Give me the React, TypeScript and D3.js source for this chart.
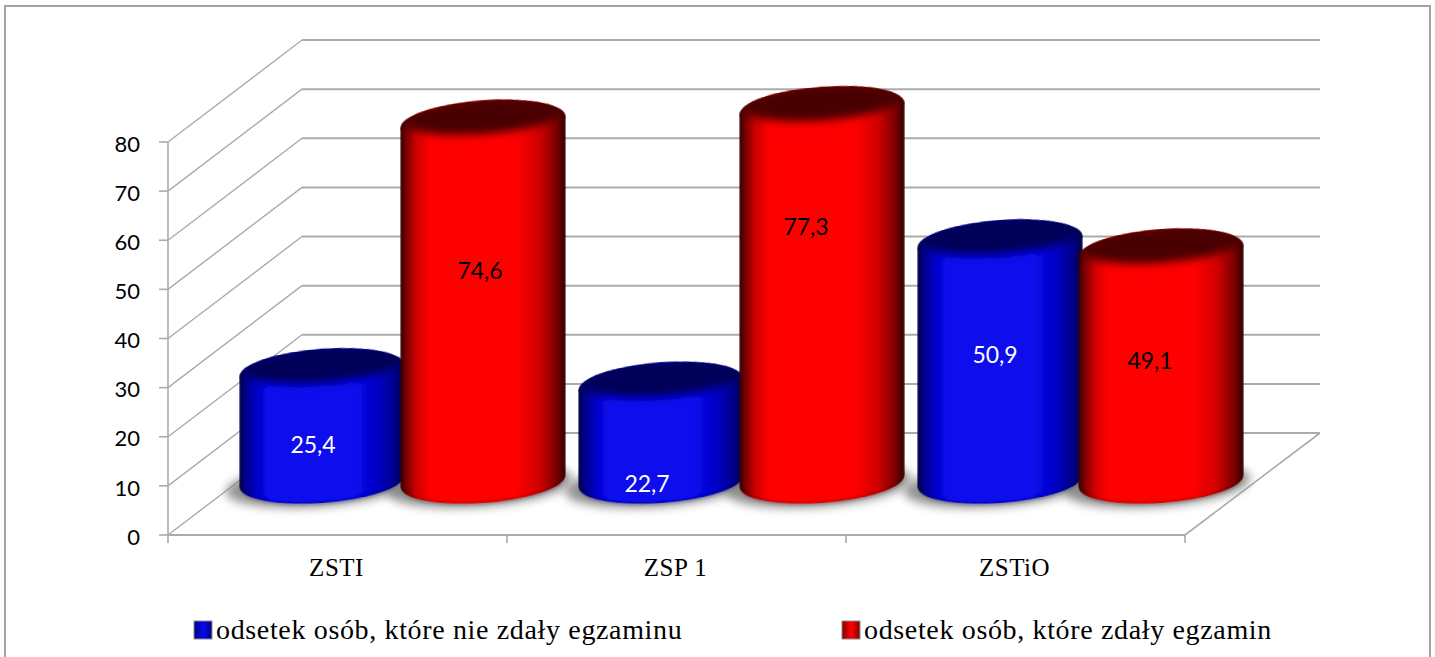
import { useId } from 'react';
import * as d3 from 'd3';

// Values
const categories = ['ZSTI', 'ZSP 1', 'ZSTiO'];
const seriesNames = ['odsetek osób, które nie zdały egzaminu', 'odsetek osób, które zdały egzamin'];
const failed = [25.4, 22.7, 50.9];
const passed = [74.6, 77.3, 49.1];
const yTicks = [0, 10, 20, 30, 40, 50, 60, 70, 80];

const W = 1435;
const H = 657;
const DEPTH_X = 134;
const DEPTH_Y = 102;
const RX = 82.5;
const RY = 22;
const SHEAR = -0.07;
const BASE_Y = 481;
const GRAY = '#ababab';

const x = d3.scaleBand<string>().domain(categories).range([168, 1185]);
const y = d3.scaleLinear().domain([0, 80]).range([535, 142]);
// cylinders sit mid-way into the floor, so their tops run on a slightly steeper scale
const topY = d3.scaleLinear().domain([0, 80]).range([499, 95]);
const labelY = d3.scaleLinear().domain([0, 80]).range([535, 252]);
const sub = d3.scaleBand<number>().domain([0, 1]).range([-161, 161]);

const palettes = [
  { id: 'blue', edge: '#000040', shade: '#00008c', soft: '#0404c4', mid: '#0808ee', top: '#000058', text: '#ffffff' },
  { id: 'red', edge: '#300000', shade: '#800000', soft: '#d00000', mid: '#ff0000', top: '#480000', text: '#000000' },
];

// hand-moved labels in the original chart
const labelNudge: [number, number][][] = [
  [[-9, 0], [-3, 0]],
  [[-14, 29], [-16, -35]],
  [[-5, 0], [-11, 0]],
];

function Cylinder({ cx, value, pal }: { cx: number; value: number; pal: (typeof palettes)[number] }) {
  const clipId = useId();
  const h = BASE_Y - topY(value);
  return (
    <g transform={`matrix(1,${SHEAR},0,1,${cx},${BASE_Y})`} filter="url(#soft)">
      <clipPath id={clipId}>
        <ellipse cx={0} cy={-h} rx={RX} ry={RY} />
      </clipPath>
      <path
        d={`M${-RX},${-h}L${-RX},0A${RX},${RY} 0 0 0 ${RX},0L${RX},${-h}Z`}
        fill={`url(#body-${pal.id})`}
      />
      <path
        d={`M${-RX + 3},2A${RX - 3},${RY - 2} 0 0 0 ${RX - 3},2`}
        fill="none"
        stroke={pal.top}
        strokeWidth={3}
        opacity={0.3}
        filter="url(#blur2)"
      />
      <ellipse cx={0} cy={-h} rx={RX} ry={RY} fill={`url(#body-${pal.id})`} />
      <g clipPath={`url(#${clipId})`}>
        <ellipse cx={0} cy={-h - 7} rx={RX - 1} ry={RY - 3} fill={pal.top} filter="url(#blur3)" />
      </g>
    </g>
  );
}

export default function App() {
  const series = [failed, passed];
  const step = x.bandwidth();
  const x0 = 168;
  const x1 = x0 + step * categories.length;
  const centers = categories.map((c) => (x(c) as number) + step / 2);
  const groupShift = DEPTH_X / 2 - 2;

  return (
    <svg
      width={W}
      height={H}
      viewBox={`0 0 ${W} ${H}`}
      style={{ position: 'absolute', left: 0, top: 0, display: 'block', background: '#fff' }}
    >
      <defs>
        {palettes.map((p) => (
          <linearGradient key={p.id} id={`body-${p.id}`} x1="0" x2="1" y1="0" y2="0">
            <stop offset="0" stopColor={p.edge} />
            <stop offset="0.04" stopColor={p.shade} />
            <stop offset="0.1" stopColor={p.soft} />
            <stop offset="0.18" stopColor={p.mid} />
            <stop offset="0.7" stopColor={p.mid} />
            <stop offset="0.84" stopColor={p.soft} />
            <stop offset="0.94" stopColor={p.shade} />
            <stop offset="1" stopColor={p.edge} />
          </linearGradient>
        ))}
        <filter id="soft" x="-5%" y="-5%" width="110%" height="110%">
          <feGaussianBlur stdDeviation="0.6" />
        </filter>
        <filter id="blur2" x="-10%" y="-50%" width="120%" height="200%">
          <feGaussianBlur stdDeviation="1.5" />
        </filter>
        <filter id="blur3" x="-10%" y="-30%" width="120%" height="160%">
          <feGaussianBlur stdDeviation="4" />
        </filter>
        <filter id="shadow" x="-20%" y="-50%" width="140%" height="200%">
          <feGaussianBlur stdDeviation="5" />
        </filter>
        <linearGradient id="swatch-blue" x1="0" x2="1" y1="0" y2="0">
          <stop offset="0" stopColor="#000080" />
          <stop offset="0.5" stopColor="#0808f0" />
          <stop offset="1" stopColor="#000080" />
        </linearGradient>
        <linearGradient id="swatch-red" x1="0" x2="1" y1="0" y2="0">
          <stop offset="0" stopColor="#800000" />
          <stop offset="0.5" stopColor="#ff0000" />
          <stop offset="1" stopColor="#800000" />
        </linearGradient>
      </defs>

      {/* frame */}
      <path d={`M5,${H}V6H1430V${H}`} fill="none" stroke="#a3a3a3" strokeWidth={2} />

      {/* back wall grid and side wall diagonals */}
      {yTicks.map((t) => (
        <g key={t} stroke={GRAY} fill="none">
          <line x1={x0} y1={y(t)} x2={x0 + DEPTH_X} y2={y(t) - DEPTH_Y} strokeWidth={1.4} />
          <line x1={x0 + DEPTH_X} y1={y(t) - DEPTH_Y} x2={x1 + DEPTH_X + 1} y2={y(t) - DEPTH_Y} strokeWidth={2} />
        </g>
      ))}

      {/* floor edges and axes */}
      <g stroke={GRAY} fill="none" strokeWidth={1.6}>
        <line x1={x1} y1={y(0)} x2={x1 + DEPTH_X + 1} y2={y(0) - DEPTH_Y} />
        <line x1={x0} y1={y(0)} x2={x1} y2={y(0)} strokeWidth={2} />
        <line x1={x0} y1={y(80)} x2={x0} y2={y(0)} />
        {yTicks.map((t) => (
          <line key={t} x1={x0 - 9} y1={y(t)} x2={x0} y2={y(t)} />
        ))}
        {[0, 1, 2, 3].map((i) => (
          <line key={i} x1={x0 + step * i} y1={y(0)} x2={x0 + step * i} y2={y(0) + 8} />
        ))}
      </g>

      {/* shadows */}
      {categories.map((c, i) =>
        series.map((s, j) => (
          <g key={`${c}-${j}`} transform={`matrix(1,${SHEAR},0,1,${centers[i] + groupShift + (sub(j) as number) + 77},${BASE_Y + 4})`}>
            <ellipse rx={RX + 10} ry={RY} fill="#7f7f7f" opacity={0.85} filter="url(#shadow)" />
          </g>
        ))
      )}

      {/* cylinders */}
      {categories.map((c, i) =>
        series.map((s, j) => (
          <Cylinder
            key={`${c}-${j}`}
            cx={centers[i] + groupShift + (sub(j) as number) + 80.5}
            value={s[i]}
            pal={palettes[j]}
          />
        ))
      )}

      {/* value labels */}
      <g fontFamily="Lato, sans-serif" fontSize={23} textAnchor="middle">
        {categories.map((c, i) =>
          series.map((s, j) => (
            <text
              key={`${c}-${j}`}
              x={centers[i] + groupShift + (sub(j) as number) + 80.5 + labelNudge[i][j][0]}
              y={labelY(s[i]) + labelNudge[i][j][1]}
              dy="0.35em"
              fill={palettes[j].text}
            >
              {String(s[i]).replace('.', ',')}
            </text>
          ))
        )}
      </g>

      {/* y tick labels */}
      <g fontFamily="Lato, sans-serif" fontSize={22} textAnchor="end" fill="#000">
        {yTicks.map((t) => (
          <text key={t} x={140} y={y(t) + 2} dy="0.35em">
            {t}
          </text>
        ))}
      </g>

      {/* category labels */}
      <g fontFamily="'Liberation Serif', serif" fontSize={25} letterSpacing={0.5} textAnchor="middle" fill="#000">
        {categories.map((c, i) => (
          <text key={c} x={centers[i] - 1} y={576}>
            {c}
          </text>
        ))}
      </g>

      {/* legend */}
      {seriesNames.map((name, j) => {
        const lx = j === 0 ? 194 : 842;
        return (
          <g key={name}>
            <rect x={lx} y={621} width={18} height={18} fill={`url(#swatch-${palettes[j].id})`} stroke="#8a8a8a" strokeWidth={1} />
            <text x={lx + 22} y={639} fontFamily="'Liberation Serif', serif" fontSize={28} letterSpacing={0.65} fill="#000">
              {name}
            </text>
          </g>
        );
      })}
    </svg>
  );
}
